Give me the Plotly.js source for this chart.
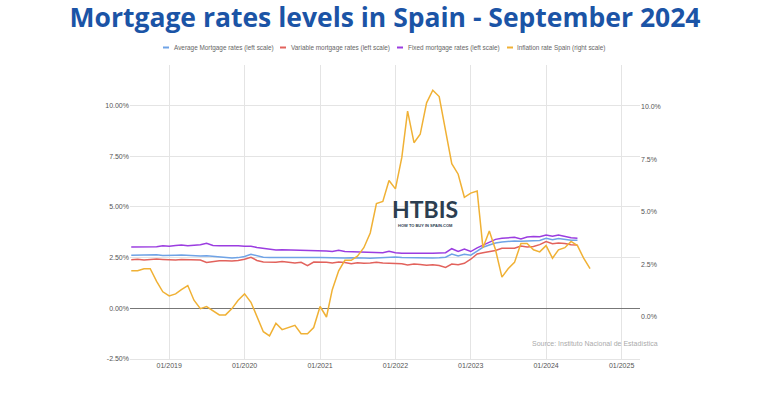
<!DOCTYPE html>
<html>
<head>
<meta charset="utf-8">
<script src="https://cdn.plot.ly/plotly-3.0.1.min.js"></script>
<style>
  html, body { margin: 0; padding: 0; background: #ffffff; }
  #chart { width: 770px; height: 400px; }
</style>
</head>
<body>
<div id="chart"></div>
<script>
// ---- Data (monthly) ----
// Mortgage series: Jul 2018 .. Jun 2024
const mortgageStart = [2018, 7];
const averageRate = [
  2.62, 2.63, 2.61, 2.62, 2.64, 2.61,
  2.60, 2.62, 2.63, 2.61, 2.60, 2.58, 2.59, 2.57, 2.55, 2.52, 2.48, 2.50,
  2.56, 2.66, 2.58, 2.52, 2.50, 2.51, 2.50, 2.51, 2.50, 2.49, 2.51, 2.50,
  2.50, 2.49, 2.51, 2.50, 2.48, 2.49, 2.50, 2.48, 2.47, 2.49, 2.50, 2.52,
  2.53, 2.50, 2.49, 2.48, 2.47, 2.46, 2.48, 2.49, 2.52, 2.68, 2.58, 2.66,
  2.62, 2.82, 3.01, 3.12, 3.22, 3.27, 3.30, 3.32, 3.31, 3.33, 3.32, 3.35,
  3.45, 3.38, 3.44, 3.40, 3.36, 3.36
];
const variableRate = [
  2.40, 2.42, 2.38, 2.40, 2.43, 2.41,
  2.39, 2.38, 2.41, 2.40, 2.36, 2.38, 2.26, 2.32, 2.35, 2.34, 2.33, 2.36,
  2.42, 2.52, 2.36, 2.28, 2.26, 2.27, 2.31, 2.28, 2.24, 2.27, 2.10, 2.28,
  2.29, 2.27, 2.24, 2.28, 2.26, 2.20, 2.25, 2.22, 2.24, 2.27, 2.23, 2.22,
  2.18, 2.20, 2.14, 2.18, 2.16, 2.12, 2.15, 2.11, 2.02, 2.18, 2.15, 2.22,
  2.42, 2.68, 2.74, 2.78, 2.85, 2.96, 2.97, 2.96, 3.07, 3.02, 3.05, 3.14,
  3.29, 3.18, 3.22, 3.20, 3.13, 3.12
];
const fixedRate = [
  3.02, 3.03, 3.01, 3.05, 3.04, 3.08,
  3.06, 3.10, 3.12, 3.08, 3.11, 3.13, 3.21, 3.10, 3.08, 3.09, 3.07, 3.08,
  3.06, 3.06, 3.00, 2.95, 2.90, 2.88, 2.89, 2.88, 2.88, 2.87, 2.88, 2.86,
  2.84, 2.83, 2.80, 2.86, 2.80, 2.79, 2.78, 2.77, 2.75, 2.76, 2.74, 2.81,
  2.74, 2.72, 2.71, 2.71, 2.70, 2.71, 2.72, 2.73, 2.74, 2.94, 2.81, 2.92,
  2.80, 2.98, 3.12, 3.28, 3.40, 3.45, 3.49, 3.50, 3.42, 3.52, 3.54, 3.53,
  3.62, 3.55, 3.62, 3.56, 3.48, 3.46
];
// Inflation: Jul 2018 .. Aug 2024
const inflationStart = [2018, 7];
const inflationRate = [
  2.2, 2.2, 2.3, 2.3, 1.7, 1.2,
  1.0, 1.1, 1.3, 1.5, 0.8, 0.4, 0.5, 0.3, 0.1, 0.1, 0.4, 0.8,
  1.1, 0.7, 0.0, -0.7, -0.9, -0.3, -0.6, -0.5, -0.4, -0.8, -0.8, -0.5,
  0.5, 0.0, 1.3, 2.2, 2.7, 2.7, 2.9, 3.3, 4.0, 5.4, 5.5, 6.5,
  6.1, 7.6, 9.8, 8.3, 8.7, 10.2, 10.8, 10.5, 8.9, 7.3, 6.8, 5.7,
  5.9, 6.0, 3.3, 4.1, 3.2, 1.9, 2.3, 2.6, 3.5, 3.5, 3.2, 3.1,
  3.4, 2.8, 3.2, 3.3, 3.6, 3.4, 2.8, 2.3
];
const seriesNames = [
  'Average Mortgage rates (left scale)',
  'Variable mortgage rates (left scale)',
  'Fixed mortgage rates (left scale)',
  'Inflation rate Spain (right scale)'
];
const leftTicks = [-2.5, 0, 2.5, 5, 7.5, 10];
const leftTickText = ['-2.50%', '0.00%', '2.50%', '5.00%', '7.50%', '10.00%'];
const rightTicks = [0, 2.5, 5, 7.5, 10];
const rightTickText = ['0.0%', '2.5%', '5.0%', '7.5%', '10.0%'];
const yearTicks = ['2019-01-01','2020-01-01','2021-01-01','2022-01-01','2023-01-01','2024-01-01','2025-01-01'];
const yearTickText = ['01/2019','01/2020','01/2021','01/2022','01/2023','01/2024','01/2025'];
const titleText = 'Mortgage rates levels in Spain - September 2024';
const sourceText = 'Source: Instituto Nacional de Estadística';

// ---- helpers ----
function monthDates(start, n) {
  const out = [];
  let y = start[0], m = start[1];
  for (let i = 0; i < n; i++) {
    out.push(y + '-' + String(m).padStart(2, '0') + '-01');
    m++; if (m > 12) { m = 1; y++; }
  }
  return out;
}
const colors = ['#6fa3e6', '#e2625c', '#9b3de0', '#f0b135'];
const mDates = monthDates(mortgageStart, averageRate.length);
const iDates = monthDates(inflationStart, inflationRate.length);

const traces = [
  {x: mDates, y: averageRate, name: seriesNames[0], yaxis: 'y', line: {color: colors[0], width: 1.5}},
  {x: mDates, y: variableRate, name: seriesNames[1], yaxis: 'y', line: {color: colors[1], width: 1.5}},
  {x: mDates, y: fixedRate, name: seriesNames[2], yaxis: 'y', line: {color: colors[2], width: 1.5}},
  {x: iDates, y: inflationRate, name: seriesNames[3], yaxis: 'y2', line: {color: colors[3], width: 1.5}}
].map(t => Object.assign({type: 'scatter', mode: 'lines', showlegend: false, hoverinfo: 'skip'}, t));

// layout geometry (pixels)
const L = 130, R = 640, T = 65, B = 359;
const px2x = p => (p - L) / (R - L);
const px2y = p => (B - p) / (B - T);

const legendItems = [
  {dash: 163, text: 172},
  {dash: 280, text: 289},
  {dash: 397, text: 406},
  {dash: 507, text: 515}
];
const legendY = 47.5;
const shapes = [], annotations = [];
legendItems.forEach((it, i) => {
  shapes.push({type: 'line', xref: 'paper', yref: 'paper',
    x0: px2x(it.dash), x1: px2x(it.dash + 6), y0: px2y(legendY), y1: px2y(legendY),
    line: {color: colors[i], width: 2}});
  annotations.push({xref: 'paper', yref: 'paper', x: px2x(it.text), y: px2y(legendY),
    xanchor: 'left', yanchor: 'middle', showarrow: false, text: seriesNames[i],
    font: {family: 'Liberation Sans, Arial, sans-serif', size: 6.4, color: '#666'}});
});
annotations.push({xref: 'paper', yref: 'paper', x: px2x(530), y: px2y(343),
  xanchor: 'left', yanchor: 'middle', showarrow: false, text: sourceText,
  font: {family: 'Liberation Sans, Arial, sans-serif', size: 7, color: '#aaaaaa'}});
annotations.push({xref: 'paper', yref: 'paper', x: px2x(425), y: px2y(209),
  xanchor: 'center', yanchor: 'middle', showarrow: false, text: '<b>HTBIS</b>',
  font: {family: 'Lato, Open Sans, sans-serif', size: 23, color: '#2c3e50'}});
annotations.push({xref: 'paper', yref: 'paper', x: px2x(425), y: px2y(225.5),
  xanchor: 'center', yanchor: 'middle', showarrow: false, text: '<b>HOW TO BUY IN SPAIN.COM</b>',
  font: {family: 'Liberation Sans, Arial, sans-serif', size: 4, color: '#2c3e50'}});

const tickFont = {family: 'Liberation Sans, Arial, sans-serif', size: 7, color: '#555'};

const layout = {
  width: 770, height: 400,
  paper_bgcolor: '#ffffff', plot_bgcolor: '#ffffff',
  margin: {l: L, r: 770 - R, t: T, b: 400 - B, pad: 0},
  title: {text: '<b>' + titleText + '</b>', x: 0.5, xanchor: 'center', xref: 'paper',
    y: 1 - 17.5 / 400, yref: 'container', yanchor: 'middle',
    font: {family: 'Open Sans, sans-serif', size: 26.5, color: '#1b54a6'}},
  showlegend: false,
  xaxis: {type: 'date', range: ['2018-06-25', '2025-03-31'],
    tickmode: 'array', tickvals: yearTicks, ticktext: yearTickText,
    showgrid: true, gridcolor: '#e4e4e4', gridwidth: 1,
    showline: true, linecolor: '#e4e4e4', zeroline: false, ticks: '',
    tickfont: tickFont},
  yaxis: {range: [-2.5, 12], tickmode: 'array', tickvals: leftTicks, ticktext: leftTickText,
    showgrid: true, gridcolor: '#e4e4e4',
    zeroline: true, zerolinecolor: '#777', zerolinewidth: 1, ticks: '', tickfont: tickFont},
  yaxis2: {range: [-2, 12], overlaying: 'y', side: 'right', tickmode: 'array',
    tickvals: rightTicks, ticktext: rightTickText,
    showgrid: false, zeroline: false, ticks: '', tickfont: tickFont},
  shapes: shapes,
  annotations: annotations
};

Plotly.newPlot('chart', traces, layout, {displayModeBar: false, staticPlot: true});
</script>
</body>
</html>
